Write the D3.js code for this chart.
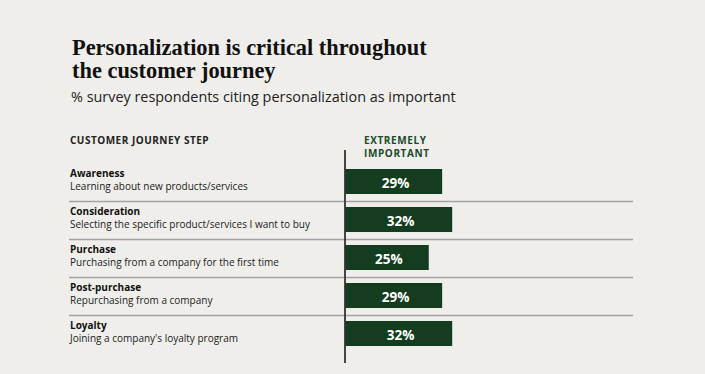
<!DOCTYPE html>
<html>
<head>
<meta charset="utf-8">
<script src="https://cdn.jsdelivr.net/npm/d3@7"></script>
<style>
  body { margin: 0; background: #efeeea; }
  svg { display: block; }
</style>
</head>
<body>
<div id="chart"></div>
<script>
// data
const steps = ["Awareness", "Consideration", "Purchase", "Post-purchase", "Loyalty"]
const descriptions = [
  "Learning about new products/services",
  "Selecting the specific product/services I want to buy",
  "Purchasing from a company for the first time",
  "Repurchasing from a company",
  "Joining a company's loyalty program"
]
const values = [29, 32, 25, 29, 32]

const dataset = steps.map((s, i) => ({ step: s, desc: descriptions[i], value: values[i] }))

const width = 705
const height = 374

const svg = d3.select("#chart").append("svg")
  .attr("width", width)
  .attr("height", height)

svg.append("rect")
  .attr("width", width)
  .attr("height", height)
  .attr("fill", "#efeeea")

// title
const title = svg.append("text")
  .attr("x", 72)
  .attr("font-family", "Liberation Serif, serif")
  .attr("font-weight", "bold")
  .attr("font-size", 22.4)
  .attr("fill", "#111")
title.append("tspan").attr("x", 72).attr("y", 55).text("Personalization is critical throughout")
title.append("tspan").attr("x", 72).attr("y", 77.5).text("the customer journey")

svg.append("text")
  .attr("x", 71)
  .attr("y", 102)
  .attr("font-family", "Open Sans, sans-serif")
  .attr("font-size", 14.4)
  .attr("fill", "#222")
  .text("% survey respondents citing personalization as important")

// scales
const xScale = d3.scaleLinear()
  .domain([0, 100])
  .range([345, 680])

const yScale = d3.scaleBand()
  .domain(steps)
  .range([163, 163 + 38 * steps.length])

// headers
svg.append("text")
  .attr("x", 70)
  .attr("y", 144)
  .attr("font-family", "Open Sans, sans-serif")
  .attr("font-weight", "bold")
  .attr("font-size", 10)
  .attr("letter-spacing", 0.5)
  .attr("fill", "#222")
  .text("CUSTOMER JOURNEY STEP")

const head2 = svg.append("text")
  .attr("font-family", "Open Sans, sans-serif")
  .attr("font-weight", "bold")
  .attr("font-size", 10)
  .attr("letter-spacing", 0.6)
  .attr("fill", "#1d4a2b")
head2.append("tspan").attr("x", 364).attr("y", 143.5).text("EXTREMELY")
head2.append("tspan").attr("x", 364).attr("y", 157).text("IMPORTANT")

// separators
svg.append("g")
  .selectAll("line")
  .data(steps.slice(1))
  .join("line")
    .attr("x1", 69)
    .attr("x2", 633)
    .attr("y1", d => yScale(d) + 0.5)
    .attr("y2", d => yScale(d) + 0.5)
    .attr("stroke", "#a3a3a0")
    .attr("stroke-width", 1.5)

// rows
const rows = svg.append("g")
  .selectAll("g")
  .data(dataset)
  .join("g")

rows.append("text")
  .attr("x", 70)
  .attr("y", d => yScale(d.step) + 14)
  .attr("font-family", "Open Sans, sans-serif")
  .attr("font-weight", "bold")
  .attr("font-size", 10)
  .attr("fill", "#111")
  .text(d => d.step)

rows.append("text")
  .attr("x", 70)
  .attr("y", d => yScale(d.step) + 27)
  .attr("font-family", "Open Sans, sans-serif")
  .attr("font-size", 10)
  .attr("fill", "#222")
  .text(d => d.desc)

rows.append("rect")
  .attr("x", xScale(0))
  .attr("y", d => yScale(d.step) + 6)
  .attr("width", d => xScale(d.value) - xScale(0))
  .attr("height", 25)
  .attr("fill", "#143d1f")

rows.append("text")
  .attr("x", d => (xScale(0) + xScale(d.value)) / 2 + 2)
  .attr("y", d => yScale(d.step) + 25)
  .attr("text-anchor", "middle")
  .attr("font-family", "Open Sans, sans-serif")
  .attr("font-weight", "bold")
  .attr("font-size", 13.5)
  .attr("fill", "#fff")
  .text(d => d.value + "%")

// axis line
svg.append("line")
  .attr("x1", xScale(0))
  .attr("x2", xScale(0))
  .attr("y1", 150)
  .attr("y2", 363)
  .attr("stroke", "#333")
  .attr("stroke-width", 1.8)
</script>
</body>
</html>
